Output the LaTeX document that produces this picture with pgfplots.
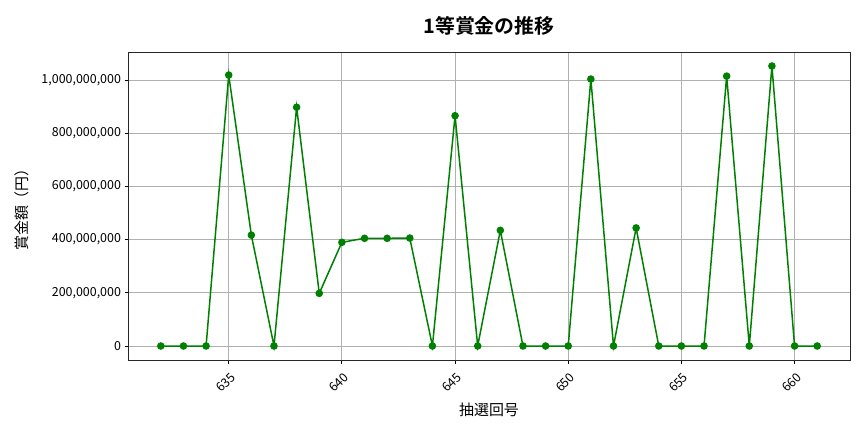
\documentclass[border=0pt]{standalone}
\usepackage{pgfplots}
\pgfplotsset{compat=1.18}
\usepackage{fontspec}
\setmainfont{Noto Sans CJK JP}[BoldFont={Noto Sans CJK JP Bold}]
\definecolor{mplgreen}{HTML}{008000}
\begin{document}
\begin{tikzpicture}[x=1bp,y=1bp]
\useasboundingbox (0,0) rectangle (864,432);
\begin{axis}[
  scale only axis,
  width=722bp, height=308bp,
  at={(128bp,72bp)}, anchor=south west,
  xmin=630.55, xmax=662.45,
  ymin=-52650000, ymax=1105650000,
  xtick={635,640,645,650,655,660},
  ytick={0,200000000,400000000,600000000,800000000,1000000000},
  scaled y ticks=false,
  yticklabel style={font=\fontsize{12.5}{14}\selectfont, /pgf/number format/fixed, /pgf/number format/1000 sep={,}, /pgf/number format/assume math mode=true},
  xticklabel style={xshift=-3bp, yshift=-19bp, rotate=45, anchor=center, font=\fontsize{12.5}{14}\selectfont, /pgf/number format/assume math mode=true, /pgf/number format/1000 sep={}},
  grid=major,
  grid style={color=black!31, line width=0.8bp},
  axis line style={line width=0.8bp, black!85},
  tick style={black, line width=0.8bp},
  tick align=outside,
  major tick length=3.5bp,
  xtick pos=bottom, ytick pos=left,
  title={\fontsize{20}{24}\selectfont\bfseries 1等賞金の推移},
  title style={at={(0.5,1)}, yshift=7bp},
  xlabel={\fontsize{15}{18}\selectfont 抽選回号},
  xlabel style={yshift=-2bp},
  ylabel={\fontsize{15}{18}\selectfont 賞金額（円）},
  ylabel style={yshift=6bp},
]
\addplot[color=mplgreen, line width=1.5bp, mark=*, mark size=3bp, mark options={fill=mplgreen, draw=mplgreen}]
coordinates {
(632,0) (633,0) (634,0) (635,1019000000) (636,417000000) (637,0)
(638,898000000) (639,198000000) (640,390000000) (641,405000000)
(642,405000000) (643,406000000) (644,0) (645,866000000) (646,0)
(647,435000000) (648,0) (649,0) (650,0) (651,1004000000) (652,0)
(653,444000000) (654,0) (655,0) (656,0) (657,1015000000) (658,0)
(659,1053000000) (660,0) (661,0)
};
\end{axis}
\end{tikzpicture}
\end{document}
